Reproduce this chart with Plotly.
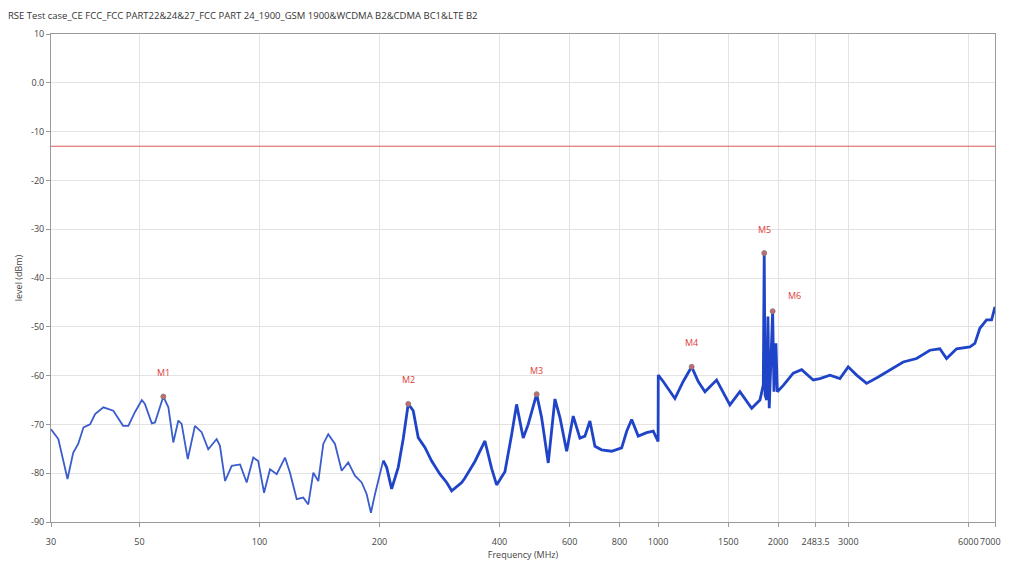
import math
import plotly.graph_objects as go

# ---------------- data ----------------
title_text = "RSE Test case_CE FCC_FCC PART22&24&27_FCC PART 24_1900_GSM 1900&WCDMA B2&CDMA BC1&LTE B2"

freq_mhz = [
    30.0, 31.3, 33.0, 34.1, 35.1, 36.2, 37.6, 38.7, 40.6, 43.0,
    45.5, 46.9, 48.7, 50.7, 51.6, 53.7, 54.7, 57.4, 59.1, 60.8,
    62.6, 63.8, 66.1, 68.9, 71.6, 74.4, 78.1, 79.6, 82.0, 85.2,
    89.4, 92.9, 96.5, 99.3, 102.7, 106.3, 110.5, 115.9, 119.3, 124.0,
    128.8, 132.6, 136.5, 140.5, 144.6, 148.8, 154.7, 160.8, 167.0, 173.6,
    180.5, 185.8, 190.4, 194.9, 204.4, 208.5, 214.6, 222.9, 229.4, 236.2,
    243.1, 250.2, 260.1, 270.4, 283.7, 294.9, 303.5, 321.6, 327.7, 347.1,
    367.8, 382.3, 393.5, 412.8, 429.1, 441.6, 458.8, 472.2, 495.8, 510.3,
    530.2, 551.1, 567.3, 589.7, 612.5, 636.6, 655.3, 674.5, 694.3, 721.7,
    764.6, 810.2, 834.1, 858.4, 891.6, 935.9, 972.3, 991.6, 1000.0, 1001.0,
    1030, 1102, 1156, 1214, 1261, 1311, 1402, 1514, 1604, 1717,
    1801, 1836, 1846, 1855, 1872, 1886, 1900, 1938, 1953, 1975,
    1991, 2061, 2183, 2291, 2450, 2546, 2698, 2858, 2998, 3148,
    3334, 3566, 3816, 4120, 4451, 4806, 5091, 5292, 5607, 6055,
    6232, 6414, 6667, 6864, 7000,
]
level_dbm = [
    -71.0, -73.0, -81.2, -75.8, -74.0, -70.6, -70.0, -67.9, -66.5, -67.2,
    -70.3, -70.3, -67.5, -65.0, -65.8, -69.8, -69.6, -64.3, -66.5, -73.7,
    -69.2, -69.9, -77.1, -70.3, -71.6, -75.1, -73.0, -74.4, -81.6, -78.5,
    -78.2, -81.9, -76.8, -77.5, -84.0, -79.2, -80.2, -76.8, -79.9, -85.3,
    -85.0, -86.4, -79.9, -81.6, -74.0, -72.0, -74.0, -79.5, -77.8, -80.5,
    -81.9, -84.3, -88.1, -84.3, -77.4, -78.8, -83.2, -78.8, -73.0, -65.8,
    -67.2, -72.7, -74.7, -77.5, -80.2, -81.9, -83.6, -81.9, -81.0, -77.6,
    -73.4, -79.0, -82.4, -79.7, -72.1, -65.9, -72.8, -70.0, -63.8, -68.6,
    -77.9, -64.8, -68.6, -75.5, -68.3, -72.8, -72.4, -69.3, -74.5, -75.2,
    -75.5, -74.8, -71.4, -69.0, -72.4, -71.7, -71.4, -73.1, -73.5, -59.9,
    -61.2, -64.7, -61.2, -58.2, -61.2, -63.3, -60.9, -66.0, -63.3, -66.7,
    -65.0, -61.9, -34.9, -64.0, -65.0, -47.9, -66.7, -46.8, -63.3, -53.4,
    -63.3, -62.0, -59.5, -58.8, -60.9, -60.6, -59.9, -60.6, -58.2, -59.9,
    -61.6, -60.3, -58.9, -57.2, -56.5, -54.8, -54.5, -56.5, -54.5, -54.1,
    -53.4, -50.3, -48.6, -48.6, -45.9,
]
assert len(freq_mhz) == len(level_dbm)

limit_freq = [30, 7000]
limit_level = [-13, -13]

marker_names = ["M1", "M2", "M3", "M4", "M5", "M6"]
marker_freq = [57.4, 236.2, 495.8, 1214, 1846, 1938]
marker_level = [-64.3, -65.8, -63.8, -58.2, -34.9, -46.8]

x_tickvals = [30, 50, 100, 200, 400, 600, 800, 1000, 1500, 2000, 2483.5, 3000, 6000, 7000]
x_ticktext = ["30", "50", "100", "200", "400", "600", "800", "1000", "1500", "2000", "2483.5", "3000", "6000", "7000"]
y_tickvals = [10, 0, -10, -20, -30, -40, -50, -60, -70, -80, -90]
y_ticktext = ["10", "0.0", "-10", "-20", "-30", "-40", "-50", "-60", "-70", "-80", "-90"]

# ---------------- style ----------------
FONT = "Open Sans, DejaVu Sans, sans-serif"
TRACE_BLUE = "#1f44c8"
TICK_COLOR = "#444444"
label_shift = {"M6": (22, 16)}  # (xshift, yshift) px
default_shift = (0, 24)

fig = go.Figure()

fig.add_trace(go.Scatter(
    x=limit_freq, y=limit_level, mode="lines",
    line=dict(color="#e05a5a", width=1.2), hoverinfo="skip", showlegend=False,
))

# thin part (low band) and heavier part (higher, noisier band)
split = next(i for i, f in enumerate(freq_mhz) if f >= 200)
fig.add_trace(go.Scatter(
    x=freq_mhz[:split + 1], y=level_dbm[:split + 1], mode="lines",
    line=dict(color="#3a5ccc", width=1.8), showlegend=False,
))
fig.add_trace(go.Scatter(
    x=freq_mhz[split:], y=level_dbm[split:], mode="lines",
    line=dict(color=TRACE_BLUE, width=2.8), showlegend=False,
))

fig.add_trace(go.Scatter(
    x=marker_freq, y=marker_level, mode="markers",
    marker=dict(color="#c86a6a", size=5, line=dict(color="#7a7a7a", width=0.8)),
    showlegend=False,
))

for name, f, v in zip(marker_names, marker_freq, marker_level):
    xs, ys = label_shift.get(name, default_shift)
    fig.add_annotation(
        x=math.log10(f), y=v, xref="x", yref="y", text=name, showarrow=False,
        xshift=xs, yshift=ys, font=dict(family=FONT, size=9, color="#e03c3c"),
    )

# last tick label sits at the very right edge of the page: draw it right-anchored
shown_ticktext = list(x_ticktext)
shown_ticktext[-1] = ""
fig.add_annotation(
    x=math.log10(x_tickvals[-1]), y=0, xref="x", yref="paper",
    text=x_ticktext[-1], showarrow=False, xanchor="right", yanchor="top",
    xshift=8, yshift=-11, font=dict(family=FONT, size=9, color=TICK_COLOR),
)

# The page body has an 8px margin, so the figure is sized/offset to compensate.
fig.update_layout(
    width=1001, height=553,
    margin=dict(l=43, r=14, t=26, b=39),
    paper_bgcolor="white", plot_bgcolor="white",
    font=dict(family=FONT, size=9, color=TICK_COLOR),
    title=dict(text=title_text, x=0.0, xanchor="left", xref="container",
               y=1 - 8 / 553, yanchor="middle",
               font=dict(family=FONT, size=9.5, color="#333333")),
)

fig.update_xaxes(
    type="log", range=[math.log10(30), math.log10(7000)],
    tickvals=x_tickvals, ticktext=shown_ticktext,
    showgrid=True, gridcolor="#e3e3e3", gridwidth=1,
    showline=True, linecolor="#9a9a9a", linewidth=1, mirror=True,
    ticks="outside", ticklen=4, tickcolor="#9a9a9a",
    ticklabelstandoff=7,
    title=dict(text="Frequency (MHz)", standoff=9, font=dict(size=9, color=TICK_COLOR)),
    zeroline=False, automargin=False,
)
fig.update_yaxes(
    range=[-90, 10],
    tickvals=y_tickvals, ticktext=y_ticktext,
    showgrid=True, gridcolor="#e3e3e3", gridwidth=1,
    showline=True, linecolor="#9a9a9a", linewidth=1, mirror=True,
    ticks="outside", ticklen=4, tickcolor="#9a9a9a",
    title=dict(text="level (dBm)", standoff=6, font=dict(size=9, color=TICK_COLOR)),
    zeroline=False, automargin=False,
)

fig.write_html("out.html")
